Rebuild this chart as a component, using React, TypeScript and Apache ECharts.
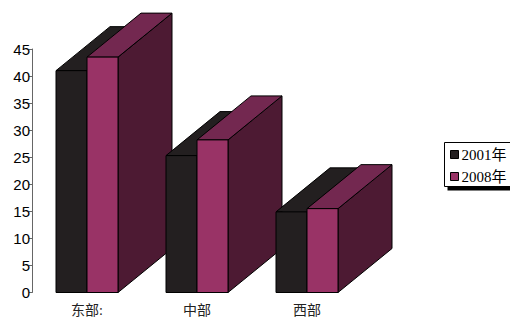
import React, { useEffect, useRef } from "react";
import * as echarts from "echarts";

const categories = ["东部:", "中部", "西部"];
const seriesNames = ["2001年", "2008年"];
const values2001 = [41.0, 25.3, 14.9];
const values2008 = [43.5, 28.2, 15.5];
const yTicks = { min: 0, max: 45, interval: 5 };

const BAR_W = 31;
const DX = 54;
const DY = -44;

const palettes = [
  { front: "#231f20", top: "#231f20", side: "#2a2426" },
  { front: "#993366", top: "#732850", side: "#4d1a33" },
];

function makeRender(s: number) {
  return (params: any, api: any) => {
    const i = api.value(0);
    const v = api.value(1);
    const base = api.coord([i, 0]);
    const topP = api.coord([i, v]);
    const cx = base[0];
    const x0 = s === 0 ? cx - BAR_W : cx;
    const x1 = x0 + BAR_W;
    const yb = base[1];
    const yt = topP[1];
    const z2 = i * 10 + s * 3;
    const p = palettes[s];
    const stroke = { stroke: "#000", lineWidth: 1 };
    return {
      type: "group",
      children: [
        {
          type: "polygon",
          z2,
          shape: { points: [[x1, yb], [x1 + DX, yb + DY], [x1 + DX, yt + DY], [x1, yt]] },
          style: { fill: p.side, ...stroke },
        },
        {
          type: "polygon",
          z2: z2 + 1,
          shape: { points: [[x0, yt], [x1, yt], [x1 + DX, yt + DY], [x0 + DX, yt + DY]] },
          style: { fill: p.top, ...stroke },
        },
        {
          type: "rect",
          z2: z2 + 2,
          shape: { x: x0, y: yt, width: BAR_W, height: yb - yt },
          style: { fill: p.front, ...stroke },
        },
      ],
    };
  };
}

export default function App() {
  const ref = useRef<HTMLDivElement>(null);
  useEffect(() => {
    if (!ref.current) return;
    const chart = echarts.init(ref.current, undefined, { renderer: "svg" });
    const serif = "'Liberation Serif', 'Noto Sans CJK SC', serif";
    chart.setOption({
      animation: false,
      grid: { left: 32, top: 49, width: 330, bottom: 27.5 },
      graphic: [
        {
          type: "rect",
          z: 0,
          silent: true,
          shape: { x: 447.5, y: 146.5, width: 80, height: 44 },
          style: { fill: "#000" },
        },
        {
          type: "rect",
          z: 1,
          silent: true,
          shape: { x: 444.5, y: 142.5, width: 80, height: 44 },
          style: { fill: "#fff", stroke: "#000", lineWidth: 1 },
        },
      ],
      legend: {
        orient: "vertical",
        left: 444,
        top: 142,
        z: 10,
        padding: [5, 4, 2, 6],
        itemGap: 7,
        itemWidth: 8,
        itemHeight: 8,
        textStyle: { fontFamily: serif, fontSize: 15, color: "#000", padding: [0, 0, 0, -2] },
        data: seriesNames.map((n, k) => ({
          name: n,
          icon: "rect",
          itemStyle: { color: palettes[k].front, borderColor: "#000", borderWidth: 1 },
        })),
      },
      xAxis: {
        type: "category",
        data: categories,
        axisLine: { show: false },
        axisTick: { show: false },
        axisLabel: { fontFamily: serif, fontSize: 14, color: "#222", margin: 11 },
      },
      yAxis: {
        type: "value",
        min: yTicks.min,
        max: yTicks.max,
        interval: yTicks.interval,
        splitLine: { show: false },
        axisLine: { show: true, lineStyle: { color: "#666", width: 1 } },
        axisTick: { show: true, length: 3, lineStyle: { color: "#666" } },
        axisLabel: { fontFamily: "'Liberation Sans', Arial, sans-serif", fontSize: 15, color: "#000", margin: 2 },
      },
      series: [values2001, values2008].map((vals, s) => ({
        type: "custom",
        name: seriesNames[s],
        itemStyle: { color: palettes[s].front },
        encode: { x: 0, y: 1 },
        data: vals.map((v, i) => [i, v]),
        renderItem: makeRender(s),
        clip: false,
      })),
    });
    return () => chart.dispose();
  }, []);
  return <div ref={ref} style={{ width: 510, height: 320, position: "absolute", left: 0, top: 0 }} />;
}
